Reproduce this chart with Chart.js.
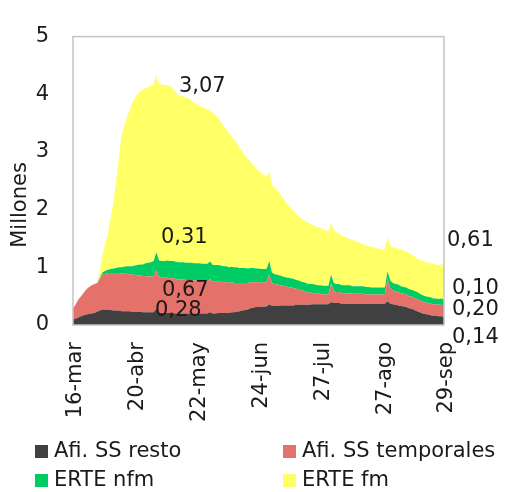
<!DOCTYPE html>
<html>
<head>
<meta charset="utf-8">
<script src="https://cdn.jsdelivr.net/npm/chart.js@4.4.0/dist/chart.umd.min.js"></script>
<style>
    html, body { margin: 0; padding: 0; background: #fff; }
</style>
</head>
<body>
<canvas id="area-chart" width="510" height="492"></canvas>
<script>
// dias laborables del 16-mar al 29-sep (sin fines de semana ni festivos)
var festivos = ['2020-04-09', '2020-04-10', '2020-05-01'];
var meses = ['ene', 'feb', 'mar', 'abr', 'may', 'jun', 'jul', 'ago', 'sep', 'oct', 'nov', 'dic'];
var etiquetasEje = ['16-mar', '20-abr', '22-may', '24-jun', '27-jul', '27-ago', '29-sep'];

// millones de personas
var resto = [
    0.10, 0.11, 0.13, 0.15, 0.17, 0.18, 0.19, 0.20, 0.21, 0.23,
    0.25, 0.27, 0.26, 0.26, 0.26, 0.25, 0.25, 0.25, 0.24, 0.24,
    0.24, 0.24, 0.23, 0.23, 0.23, 0.23, 0.22, 0.22, 0.22, 0.22,
    0.22, 0.28, 0.22, 0.21, 0.21, 0.21, 0.21, 0.21, 0.20, 0.20,
    0.20, 0.20, 0.20, 0.20, 0.20, 0.20, 0.20, 0.20, 0.20, 0.20,
    0.20, 0.22, 0.20, 0.20, 0.21, 0.21, 0.21, 0.21, 0.21, 0.22,
    0.22, 0.23, 0.24, 0.25, 0.26, 0.27, 0.29, 0.30, 0.31, 0.31,
    0.31, 0.32, 0.32, 0.36, 0.33, 0.33, 0.33, 0.34, 0.34, 0.34,
    0.34, 0.34, 0.34, 0.35, 0.35, 0.35, 0.35, 0.35, 0.35, 0.36,
    0.36, 0.36, 0.36, 0.36, 0.36, 0.36, 0.40, 0.38, 0.38, 0.38,
    0.37, 0.37, 0.37, 0.37, 0.37, 0.37, 0.37, 0.37, 0.37, 0.37,
    0.37, 0.37, 0.37, 0.37, 0.37, 0.37, 0.37, 0.41, 0.37, 0.36,
    0.35, 0.34, 0.33, 0.32, 0.31, 0.29, 0.28, 0.26, 0.24, 0.22,
    0.20, 0.19, 0.18, 0.17, 0.16, 0.16, 0.15, 0.15, 0.14
];
var temporales = [
    0.18, 0.25, 0.31, 0.35, 0.39, 0.44, 0.47, 0.49, 0.50, 0.50,
    0.55, 0.60, 0.63, 0.64, 0.64, 0.65, 0.65, 0.65, 0.65, 0.65,
    0.65, 0.64, 0.64, 0.64, 0.63, 0.63, 0.63, 0.63, 0.62, 0.62,
    0.62, 0.67, 0.62, 0.61, 0.61, 0.61, 0.60, 0.60, 0.60, 0.59,
    0.59, 0.59, 0.58, 0.58, 0.58, 0.57, 0.57, 0.57, 0.56, 0.56,
    0.56, 0.58, 0.55, 0.55, 0.54, 0.54, 0.53, 0.53, 0.52, 0.52,
    0.51, 0.50, 0.49, 0.48, 0.47, 0.46, 0.45, 0.44, 0.43, 0.43,
    0.42, 0.42, 0.42, 0.52, 0.40, 0.38, 0.37, 0.35, 0.34, 0.33,
    0.32, 0.31, 0.30, 0.28, 0.27, 0.25, 0.24, 0.22, 0.21, 0.20,
    0.19, 0.18, 0.18, 0.17, 0.17, 0.17, 0.32, 0.20, 0.19, 0.19,
    0.18, 0.18, 0.18, 0.18, 0.17, 0.17, 0.17, 0.17, 0.17, 0.16,
    0.16, 0.16, 0.16, 0.16, 0.16, 0.16, 0.16, 0.39, 0.27, 0.24,
    0.23, 0.23, 0.22, 0.22, 0.22, 0.21, 0.21, 0.21, 0.21, 0.21,
    0.21, 0.20, 0.20, 0.20, 0.20, 0.20, 0.20, 0.20, 0.20
];
var erteNfm = [
    0, 0, 0, 0, 0, 0, 0, 0, 0, 0,
    0.02, 0.04, 0.05, 0.06, 0.07, 0.08, 0.09, 0.10, 0.11, 0.12,
    0.13, 0.14, 0.15, 0.16, 0.18, 0.19, 0.20, 0.22, 0.24, 0.25,
    0.27, 0.31, 0.28, 0.29, 0.29, 0.30, 0.30, 0.30, 0.30, 0.30,
    0.30, 0.30, 0.30, 0.30, 0.30, 0.30, 0.30, 0.30, 0.30, 0.30,
    0.30, 0.30, 0.29, 0.29, 0.29, 0.28, 0.28, 0.28, 0.27, 0.27,
    0.27, 0.27, 0.26, 0.26, 0.26, 0.25, 0.25, 0.25, 0.24, 0.24,
    0.24, 0.23, 0.23, 0.23, 0.18, 0.17, 0.17, 0.17, 0.16, 0.16,
    0.16, 0.16, 0.16, 0.15, 0.15, 0.15, 0.15, 0.15, 0.15, 0.15,
    0.15, 0.15, 0.15, 0.15, 0.15, 0.15, 0.15, 0.15, 0.14, 0.14,
    0.14, 0.14, 0.14, 0.14, 0.13, 0.13, 0.13, 0.13, 0.13, 0.13,
    0.13, 0.12, 0.12, 0.12, 0.12, 0.12, 0.12, 0.13, 0.13, 0.13,
    0.13, 0.13, 0.12, 0.12, 0.12, 0.12, 0.12, 0.12, 0.12, 0.11,
    0.11, 0.11, 0.11, 0.11, 0.10, 0.10, 0.10, 0.11, 0.10
];
var erteFm = [
    0, 0, 0, 0, 0, 0, 0, 0, 0, 0,
    0.11, 0.32, 0.47, 0.63, 0.88, 1.13, 1.47, 1.87, 2.28, 2.43,
    2.57, 2.70, 2.83, 2.90, 2.96, 3.00, 3.03, 3.04, 3.05, 3.06,
    3.06, 3.07, 3.06, 3.06, 3.05, 3.04, 3.03, 3.00, 2.95, 2.90,
    2.89, 2.87, 2.86, 2.85, 2.81, 2.78, 2.76, 2.74, 2.72, 2.70,
    2.68, 2.62, 2.63, 2.60, 2.55, 2.49, 2.43, 2.38, 2.31, 2.26,
    2.20, 2.15, 2.08, 2.01, 1.96, 1.90, 1.84, 1.79, 1.74, 1.70,
    1.67, 1.63, 1.60, 1.56, 1.52, 1.50, 1.46, 1.41, 1.36, 1.31,
    1.26, 1.22, 1.18, 1.15, 1.11, 1.10, 1.07, 1.06, 1.05, 1.03,
    1.02, 1.01, 0.99, 0.98, 0.96, 0.94, 0.89, 0.92, 0.89, 0.87,
    0.86, 0.84, 0.82, 0.80, 0.80, 0.79, 0.77, 0.75, 0.73, 0.72,
    0.71, 0.70, 0.70, 0.68, 0.67, 0.66, 0.66, 0.59, 0.60, 0.62,
    0.63, 0.62, 0.64, 0.63, 0.62, 0.63, 0.61, 0.60, 0.58, 0.59,
    0.59, 0.60, 0.59, 0.59, 0.60, 0.59, 0.59, 0.59, 0.61
];

function dos(n) { return (n < 10 ? '0' : '') + n; }

var dias = [];
var d = new Date(2020, 2, 16);
var fin = new Date(2020, 8, 29);
while (d <= fin) {
    var iso = d.getFullYear() + '-' + dos(d.getMonth() + 1) + '-' + dos(d.getDate());
    if (d.getDay() !== 0 && d.getDay() !== 6 && festivos.indexOf(iso) < 0) {
        dias.push(d.getDate() + '-' + meses[d.getMonth()]);
    }
    d.setDate(d.getDate() + 1);
}

var texto = '#1a1a1a';
var fuente = '21px "DejaVu Sans"';

function coma(v) { return v.toFixed(2).replace('.', ','); }

// etiquetas de valor: [serie, punto, dx, dy, alineacion]
var notas = [
    [3, 31, 46, 11, 'center'],
    [2, 31, 28, -15, 'center'],
    [1, 31, 29, 20, 'center'],
    [0, 31, 22, 2, 'center'],
    [3, 138, 3, -24, 'left'],
    [2, 138, 8, -11, 'left'],
    [1, 138, 8, 4, 'left'],
    [0, 138, 8, 21, 'left']
];

var extras = {
    id: 'extras',
    afterDraw: function (chart) {
        var ctx = chart.ctx;
        var a = chart.chartArea;
        var sx = chart.scales.x, sy = chart.scales.y;
        var ds = chart.data.datasets;

        ctx.save();
        ctx.strokeStyle = '#c4c4c4';
        ctx.lineWidth = 1.5;
        ctx.strokeRect(a.left, a.top, a.right - a.left, a.bottom - a.top);

        ctx.font = fuente;
        ctx.fillStyle = texto;
        ctx.textBaseline = 'middle';
        notas.forEach(function (n) {
            var suma = 0;
            for (var k = 0; k <= n[0]; k++) suma += ds[k].data[n[1]];
            ctx.textAlign = n[4];
            ctx.fillText(coma(ds[n[0]].data[n[1]]), sx.getPixelForValue(n[1]) + n[2], sy.getPixelForValue(suma) + n[3]);
        });

        // titulo del eje y
        ctx.save();
        ctx.translate(21, 205);
        ctx.rotate(-Math.PI / 2);
        ctx.textAlign = 'center';
        ctx.fillText('Millones', 0, 0);
        ctx.restore();

        // leyenda en dos columnas
        var cols = [35, 283], filas = [451, 480];
        ds.forEach(function (s, i) {
            var x = cols[i % 2], y = filas[Math.floor(i / 2)];
            ctx.fillStyle = s.backgroundColor;
            ctx.fillRect(x, y - 6, 13, 13);
            ctx.fillStyle = texto;
            ctx.textAlign = 'left';
            ctx.fillText(s.label, x + 19, y + 1);
        });
        ctx.restore();
    }
};

function serie(nombre, datos, color, relleno) {
    return {
        label: nombre,
        data: datos,
        backgroundColor: color,
        borderWidth: 0,
        pointRadius: 0,
        tension: 0,
        fill: relleno
    };
}

var lineChart = new Chart(document.getElementById('area-chart'), {
    type: 'line',
    data: {
        labels: dias,
        datasets: [
            serie('Afi. SS resto', resto, '#404040', 'origin'),
            serie('Afi. SS temporales', temporales, '#E4716A', '-1'),
            serie('ERTE nfm', erteNfm, '#00CC66', '-1'),
            serie('ERTE fm', erteFm, '#FFFF66', '-1')
        ]
    },
    options: {
        responsive: false,
        animation: false,
        layout: { padding: { top: 20, right: 66, left: 0, bottom: 0 } },
        plugins: { legend: { display: false }, tooltip: { enabled: false } },
        scales: {
            x: {
                grid: { display: false, drawTicks: false },
                border: { display: false },
                ticks: {
                    autoSkip: false,
                    minRotation: 90,
                    maxRotation: 90,
                    padding: 17,
                    labelOffset: 3,
                    color: texto,
                    font: { family: 'DejaVu Sans', size: 21 },
                    callback: function (v) {
                        var l = this.getLabelForValue(v);
                        return etiquetasEje.indexOf(l) >= 0 ? l : null;
                    }
                },
                afterFit: function (s) { s.height = 167; }
            },
            y: {
                stacked: true,
                min: 0,
                max: 5,
                grid: { display: false, drawTicks: false },
                border: { display: false },
                ticks: {
                    stepSize: 1,
                    padding: 24,
                    color: texto,
                    font: { family: 'DejaVu Sans', size: 21 }
                },
                afterFit: function (s) { s.width = 73; }
            }
        }
    },
    plugins: [extras]
});
</script>
</body>
</html>
